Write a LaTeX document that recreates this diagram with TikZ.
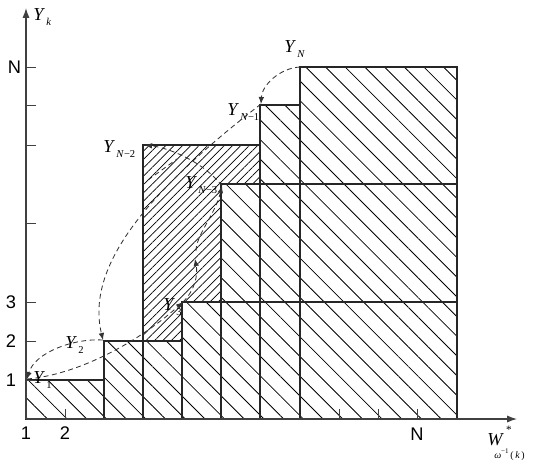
\documentclass[tikz,border=0pt]{standalone}
\usepackage{fontspec}
\setmainfont{Liberation Serif}
\newfontfamily\sansf{Liberation Sans}
\usetikzlibrary{patterns.meta,arrows.meta}
\newcommand{\Ylab}[1]{\textit{Y}\kern1pt\raisebox{-4pt}{\fontsize{7.5}{7.5}\selectfont #1}}
\begin{document}
\begin{tikzpicture}[x=0.025cm,y=-0.025cm,
  bar/.style={draw=black!85,line width=0.8pt},
  hatchA/.style={pattern={Lines[angle=-45,distance=9.9pt,line width=0.6pt]}},
  hatchB/.style={pattern={Lines[angle=45,distance=4.2pt,line width=0.5pt]}},
  axisline/.style={draw=black!75,line width=0.8pt,-{Latex[length=7pt,width=5pt]}},
  tickmark/.style={draw=black!75,line width=0.7pt},
  cyc/.style={draw=black!80,line width=0.6pt,dash pattern=on 3.5pt off 2.5pt},
  tip/.style={-{Latex[length=5pt,width=4pt]}},
  ylab/.style={font=\fontsize{13}{13}\selectfont, inner sep=0pt, anchor=base west},
  num/.style={font=\sansf\fontsize{13}{13}\selectfont, inner sep=0pt}
]
\useasboundingbox (0,0) rectangle (545,470);

% hatched regions
\fill[hatchA] (26,419) -- (26,380) -- (104,380) -- (104,341) -- (182,341) -- (182,302)
  -- (221,302) -- (221,184) -- (260,184) -- (260,105) -- (300,105) -- (300,67)
  -- (457,67) -- (457,419) -- cycle;
\fill[hatchB] (143,341) -- (143,145) -- (260,145) -- (260,184) -- (221,184) -- (221,302)
  -- (182,302) -- (182,341) -- cycle;

% bars
\draw[bar] (26,419) rectangle (104,380);
\draw[bar] (104,419) rectangle (143,341);
\draw[bar] (143,419) rectangle (182,341);
\draw[bar] (182,419) rectangle (221,302);
\draw[bar] (221,419) rectangle (260,184);
\draw[bar] (260,419) rectangle (300,105);
\draw[bar] (300,419) rectangle (457,67);
\draw[bar] (143,341) -- (143,145) -- (260,145);
\draw[bar] (182,302) -- (457,302);
\draw[bar] (221,184) -- (457,184);

% axes
\coordinate (O) at (26,419);
\coordinate (ytop) at (26,8);
\coordinate (xend) at (517,419);
\draw[axisline] (O) -- (ytop);
\draw[axisline] (O) -- (xend);
\foreach \yy in {67,105,145,223,302,341,380} \draw[tickmark] (26,\yy) -- (36,\yy);
\foreach \xx in {65,339,378,417} \draw[tickmark] (\xx,419) -- (\xx,409);

% axis labels
\node[num] (lN) at (14.5,67) {N};
\node[num] (l3) at (11,302) {3};
\node[num] (l2) at (11,341) {2};
\node[num] (l1) at (11,380) {1};
\node[num] (lx1) at (26,433) {1};
\node[num] (lx2) at (65,433) {2};
\node[num] (lxN) at (417,434) {N};
\node[ylab] (lYk) at (33,20) {\Ylab{\textit{k}}};
\node[ylab] (lW) at (487,445) {\textit{W}};
\node[inner sep=0pt] (lstar) at (509,430) {\fontsize{8}{8}\selectfont *};
\node[inner sep=0pt,anchor=base west] (lWsub) at (494,458)
  {\fontsize{7}{7}\selectfont\textit{ω}\raisebox{3pt}{\fontsize{5}{5}\selectfont −1}\,(\,\textit{k}\,)};

% cycle points
\coordinate (pN) at (300,67);
\coordinate (pN1) at (261,104);
\coordinate (pN2) at (145,145);
\coordinate (pN3) at (222,186);
\coordinate (p3) at (183,302);
\coordinate (p2) at (103,340);
\coordinate (p1) at (27,379);
\coordinate (pm) at (195,259);
\coordinate (pm2) at (196,251);
\coordinate (q1) at (148,180);
\coordinate (q2) at (177,159);

\draw[cyc,tip] (pN) .. controls (280,68) and (262,85) .. (pN1);
\draw[cyc,tip] (pN1) .. controls (150,190) and (85,265) .. (p2);
\draw[cyc,tip] (p2) .. controls (75,338) and (35,352) .. (p1);
\draw[cyc,tip] (p1) .. controls (75,375) and (135,345) .. (p3);
\draw[cyc,tip] (p3) .. controls (195,290) and (198,275) .. (pm);
\draw[cyc,tip] (pm2) .. controls (196,235) and (215,215) .. (pN3);
\draw[cyc,tip] (pN3) .. controls (205,163) and (170,148) .. (pN2);
\draw[cyc] (q1) -- (q2);

% point labels
\node[ylab] (lYN) at (284,52) {\Ylab{\textit{N}}};
\node[ylab] (lYN1) at (227,115) {\Ylab{\textit{N}−1}};
\node[ylab] (lYN2) at (103,152) {\Ylab{\textit{N}−2}};
\node[ylab] (lYN3) at (185,188) {\Ylab{\textit{N}−3}};
\node[ylab] (lY3) at (163,310) {\Ylab{3}};
\node[ylab] (lY2) at (65,348) {\Ylab{2}};
\node[ylab] (lY1) at (33,383) {\Ylab{1}};
\end{tikzpicture}
\end{document}
